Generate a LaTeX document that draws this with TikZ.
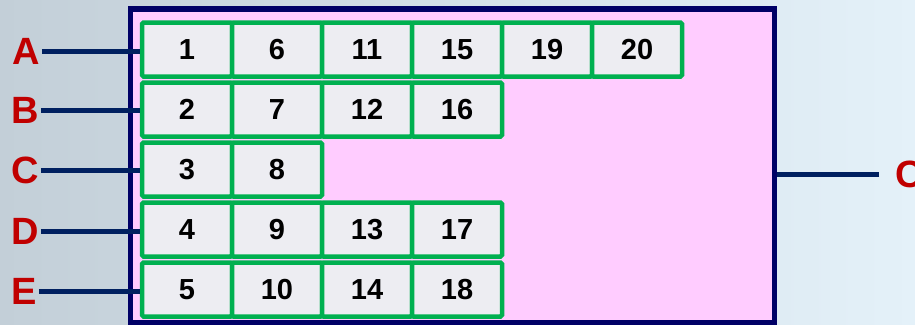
\documentclass[tikz,border=0pt]{standalone}
\usepackage{fontspec}
\setmainfont{Liberation Sans}
\definecolor{labred}{HTML}{C00000}
\definecolor{boxnavy}{HTML}{000066}
\definecolor{linenavy}{HTML}{002060}
\definecolor{cellgreen}{HTML}{00B050}
\definecolor{cellgray}{HTML}{EDEDF2}
\definecolor{boxpink}{HTML}{FFCCFF}
\definecolor{bgleft}{HTML}{C3CFD8}
\definecolor{bgright}{HTML}{E4F1F9}
\begin{document}
\begin{tikzpicture}[x=1pt,y=-1pt,
  cell/.style={draw=cellgreen, line width=4.5pt, fill=cellgray, minimum width=90pt,
    minimum height=54pt, inner sep=0pt, rounded corners=1.5pt,
    font=\fontsize{29}{29}\selectfont\bfseries},
  lab/.style={text=labred, font=\fontsize{38}{38}\selectfont\bfseries, inner sep=0pt},
  conn/.style={draw=linenavy, line width=5pt},
  bigbox/.style={draw=boxnavy, fill=boxpink, line width=5.5pt, inner sep=0pt,
    minimum width=644pt, minimum height=314pt}]
\useasboundingbox (0,0) rectangle (915,324);
\clip (0,0) rectangle (915,324);
\shade[left color=bgleft, right color=bgright] (0,0) rectangle (915,324);
\node[bigbox] (box) at (452.5,166) {};
\foreach \r/\lab/\ly/\lx/\vals in {0/A/51/26/{1,6,11,15,19,20},1/B/110/25/{2,7,12,16},2/C/170/25/{3,8},3/D/231/25/{4,9,13,17},4/E/291/24/{5,10,14,18}}{
  \foreach \v [count=\i] in \vals {
    \node[cell] (c\lab\i) at ({187+90*(\i-1)},{49.5+60*\r}) {\v};
  }
  \node[lab] (l\lab) at (\lx,\ly) {\lab};
}
\draw[conn] ([xshift=2pt]lA.east) -- (lA.east -| cA1.west);
\draw[conn] ([xshift=2pt]lB.east) -- (lB.east -| cB1.west);
\draw[conn] ([xshift=2pt]lC.east) -- (lC.east -| cC1.west);
\draw[conn] ([xshift=2pt]lD.east) -- (lD.east -| cD1.west);
\draw[conn] ([xshift=2pt]lE.east) -- (lE.east -| cE1.west);
\node[lab, anchor=west] (lR) at (895,174) {C};
\draw[conn] ([xshift=-16pt]lR.west) -- (lR.west -| box.east);
\end{tikzpicture}
\end{document}
